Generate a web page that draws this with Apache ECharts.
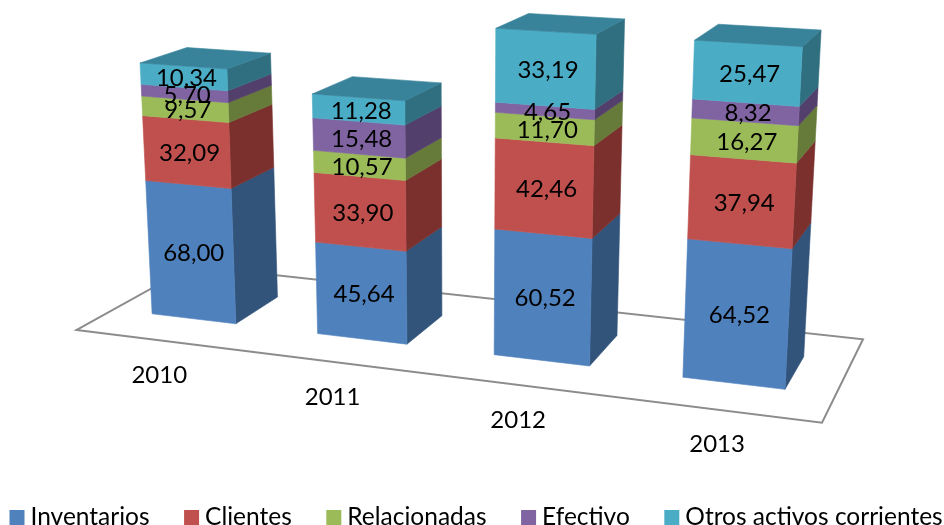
<!DOCTYPE html>
<html><head><meta charset="utf-8">
<style>html,body{margin:0;padding:0;background:#fff}#c{width:944px;height:525px}</style>
<script src="https://cdn.jsdelivr.net/npm/echarts@6/dist/echarts.min.js"></script>
</head><body><div id="c"></div>
<script>
const categories = ['2010','2011','2012','2013'];
const inventarios = [68.00,45.64,60.52,64.52];
const clientes = [32.09,33.90,42.46,37.94];
const relacionadas = [9.57,10.57,11.70,16.27];
const efectivo = [5.70,15.48,4.65,8.32];
const otros = [10.34,11.28,33.19,25.47];
const seriesNames = ['Inventarios','Clientes','Relacionadas','Efectivo','Otros activos corrientes'];
const seriesValues = [inventarios,clientes,relacionadas,efectivo,otros];
const frontColors = ['#4F81BD','#C0504D','#9BBB59','#8064A2','#4BACC6'];
const sideColors = ['#32547A','#7B302E','#667A39','#533F6B','#306F80'];
const topColor = '#38839A';
const FONT = 'Lato, "Noto Sans", sans-serif';

// Camera: floor quad corners (front-left, front-right, back-right, back-left), vertical vanishing point
const Q = [[76.7,330],[822,422.7],[863,339.3],[192,266]];
const VP = [462,6776];
const AXIS_MAX = 180, LIFT = -0.0550, Z_FRONT = 0.3, Z_BACK = 0.7;
const BAR_HALF = 0.257, BAR_SHIFT = -0.001;
const LABEL_DX = 2.5, LABEL_DY = 1.5;

const dx1=Q[1][0]-Q[2][0],dx2=Q[3][0]-Q[2][0],sx=Q[0][0]-Q[1][0]+Q[2][0]-Q[3][0];
const dy1=Q[1][1]-Q[2][1],dy2=Q[3][1]-Q[2][1],sy=Q[0][1]-Q[1][1]+Q[2][1]-Q[3][1];
const den=dx1*dy2-dx2*dy1;
const g=(sx*dy2-dx2*sy)/den,h=(dx1*sy-sx*dy1)/den;
const a=Q[1][0]-Q[0][0]+g*Q[1][0],b=Q[3][0]-Q[0][0]+h*Q[3][0],c=Q[0][0];
const d=Q[1][1]-Q[0][1]+g*Q[1][1],e=Q[3][1]-Q[0][1]+h*Q[3][1],f=Q[0][1];
// X: 0..1 across the floor, Z: 0..1 into the floor, N: 0..1 of the value axis
function project(X,Z,N){
  const t=N*LIFT, w=g*X+h*Z+1+t;
  return [(a*X+b*Z+c+t*VP[0])/w,(d*X+e*Z+f+t*VP[1])/w];
}
const fmt=v=>v.toFixed(2).replace('.',',');

function makeRender(si){
  return function(params,api){
    const cs=params.coordSys;
    const i=api.value(0), lo=api.value(1), hi=api.value(2);
    const pL=api.coord([i,lo]), pH=api.coord([i,hi]);
    const band=api.size([1,0])[0];
    const Xc=(pL[0]-cs.x)/cs.width, halfX=band*BAR_HALF/cs.width;
    const n0=(cs.y+cs.height-pL[1])/cs.height, n1=(cs.y+cs.height-pH[1])/cs.height;
    const X0=Xc-halfX+BAR_SHIFT, X1=Xc+halfX+BAR_SHIFT;
    const fbl=project(X0,Z_FRONT,n0),fbr=project(X1,Z_FRONT,n0),ftr=project(X1,Z_FRONT,n1),ftl=project(X0,Z_FRONT,n1);
    const bbr=project(X1,Z_BACK,n0),btr=project(X1,Z_BACK,n1),btl=project(X0,Z_BACK,n1);
    const poly=(pts,col)=>({type:'polygon',shape:{points:pts},style:{fill:col,stroke:col,lineWidth:0.6},z2:1});
    const kids=[poly([fbr,bbr,btr,ftr],sideColors[si]),poly([fbl,fbr,ftr,ftl],frontColors[si])];
    if(si===seriesNames.length-1) kids.push(poly([ftl,ftr,btr,btl],topColor));
    const cx=(fbl[0]+fbr[0]+ftr[0]+ftl[0])/4+LABEL_DX, cy=(fbl[1]+fbr[1]+ftr[1]+ftl[1])/4+LABEL_DY;
    kids.push({type:'text',z2:50,style:{text:fmt(hi-lo),x:cx,y:cy,align:'center',verticalAlign:'middle',fontSize:24,fontFamily:FONT,fill:'#000'}});
    if(si===0){
      const p=project(Xc,0,0);
      kids.push({type:'text',z2:50,style:{text:categories[i],x:p[0],y:p[1]+35,align:'center',verticalAlign:'middle',fontSize:24,fontFamily:FONT,fill:'#000'}});
    }
    return {type:'group',children:kids};
  };
}

const running=categories.map(()=>0);
const series=seriesNames.map((name,si)=>{
  const data=seriesValues[si].map((v,i)=>{const lo=running[i];running[i]=lo+v;return [i,lo,lo+v];});
  return {name,type:'custom',coordinateSystem:'cartesian2d',renderItem:makeRender(si),data,
    encode:{x:0,y:[1,2]},itemStyle:{color:frontColors[si]},silent:true};
});

const chart=echarts.init(document.getElementById('c'),null,{renderer:'canvas'});
chart.setOption({
  animation:false,backgroundColor:'#fff',
  grid:{left:0,right:0,top:0,bottom:0},
  xAxis:{type:'category',data:categories,show:false},
  yAxis:{type:'value',min:0,max:AXIS_MAX,show:false},
  legend:{data:seriesNames,left:9.5,top:505,itemWidth:15,itemHeight:15,itemGap:34.5,icon:'rect',padding:0,
    selectedMode:false,textStyle:{fontSize:24.5,fontFamily:FONT,color:'#000',padding:[0,0,0,1]}},
  graphic:[{type:'polygon',z:0,silent:true,shape:{points:Q},style:{fill:'#fff',stroke:'#8C8C8C',lineWidth:2}}],
  series
});
</script></body></html>
